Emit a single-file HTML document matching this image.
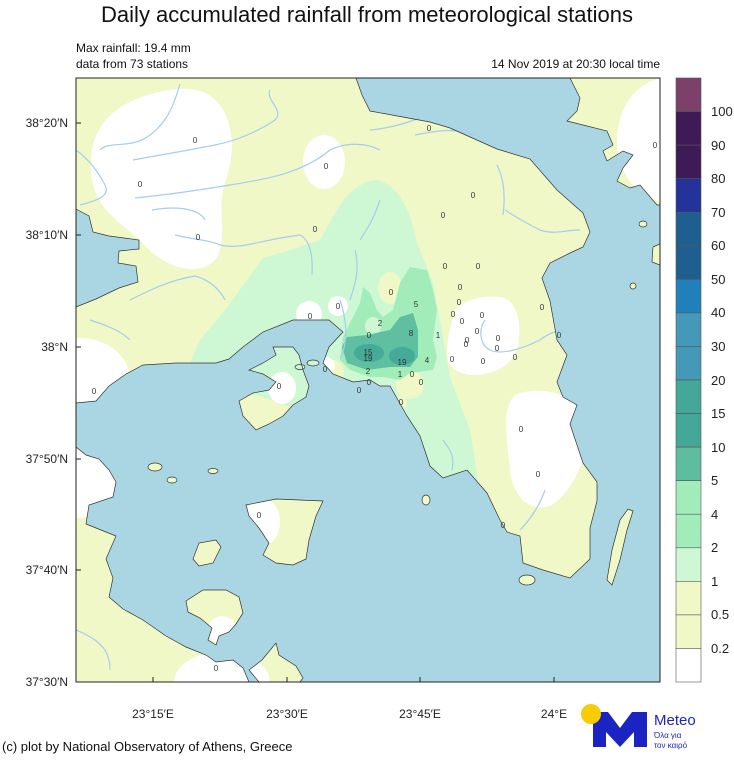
<!DOCTYPE html>
<html><head><meta charset="utf-8"><style>
body{margin:0;background:#fff;width:734px;height:755px;overflow:hidden;font-family:"Liberation Sans",sans-serif}
</style></head><body>
<svg width="734" height="755" viewBox="0 0 734 755" xmlns="http://www.w3.org/2000/svg" font-family="Liberation Sans, sans-serif">
<defs>
<clipPath id="frame"><rect x="76" y="78" width="584" height="604"/></clipPath>
<clipPath id="land">
<path id="A" d="M76,78 L356,78 L362,95 L370,111 L430,122 L450,128 L497,149 L530,159 L557,190 L583,213 L590,232 L583,247 L570,253 L550,263 L542,278 L550,301 L557,340 L567,355 L557,382 L563,397 L577,405 L570,424 L583,463 L597,482 L597,501 L590,528 L590,559 L570,578 L543,570 L523,563 L520,536 L507,532 L500,520 L487,493 L467,470 L443,478 L430,466 L420,436 L407,416 L390,386 L380,386 L370,380 L353,382 L333,374 L323,363 L329,347 L343,332 L329,320 L309,320 L293,320 L263,332 L243,347 L229,359 L216,363 L176,363 L143,365 L126,374 L109,386 L96,401 L76,403 Z"/>
<path d="M570,78 L580,98 L577,111 L567,121 L583,125 L607,131 L613,145 L603,151 L607,161 L623,151 L633,155 L623,168 L617,181 L630,188 L640,185 L657,205 L660,205 L660,78 Z"/>
<path d="M273,347 L293,347 L299,355 L303,370 L309,386 L306,397 L293,405 L283,416 L269,424 L256,430 L243,416 L239,401 L253,393 L269,390 L276,382 L263,374 L249,370 L263,363 L276,355 Z"/>
<path d="M76,447 L86,455 L99,459 L109,470 L116,482 L113,497 L89,505 L86,524 L96,528 L116,536 L106,559 L113,578 L109,597 L123,609 L143,620 L166,636 L186,647 L206,655 L216,662 L233,660 L243,668 L249,682 L76,682 Z"/>
<path d="M186,601 L203,590 L226,590 L239,597 L243,613 L236,624 L229,632 L219,636 L216,645 L208,640 L212,628 L200,618 L188,612 Z"/>
<path d="M276,643 L279,655 L296,666 L303,678 L300,682 L259,682 L249,670 L262,660 Z"/>
<path d="M246,505 L276,499 L323,501 L316,516 L309,540 L306,559 L293,565 L276,563 L263,555 L269,543 L259,528 L249,516 Z"/>
<path d="M193,559 L199,543 L216,540 L221,547 L213,563 L199,566 Z"/>
<path d="M633,511 L627,530 L620,560 L612,585 L607,580 L612,550 L620,520 L628,509 Z"/>
<path d="M653,247 L660,244 L660,265 L652,262 Z"/>
<ellipse cx="155" cy="467" rx="7" ry="4"/><ellipse cx="172" cy="480" rx="5" ry="3"/><ellipse cx="213" cy="471" rx="5" ry="2.5"/>
<ellipse cx="527" cy="580" rx="8" ry="5"/><ellipse cx="426" cy="500" rx="4" ry="5"/><ellipse cx="643" cy="224" rx="4" ry="3"/><ellipse cx="633" cy="286" rx="3" ry="3"/>
<ellipse cx="313" cy="363" rx="6" ry="3"/><ellipse cx="300" cy="367" rx="5" ry="2.5"/>
</clipPath>
</defs>
<!-- sea -->
<rect x="76" y="78" width="584" height="604" fill="#aad6e3"/>
<g clip-path="url(#land)">
<rect x="76" y="78" width="584" height="604" fill="#eff8c6"/>
<!-- light green 1-2 -->
<path d="M377,180 C400,185 412,215 417,243 L433,283 L443,337 L450,377 L470,430 L478,480 L440,480 L330,420 L186,372 L200,340 L226,309 L263,258 L290,250 L320,240 L340,205 C350,190 365,180 377,180 Z" fill="#cdf8d3"/>
<ellipse cx="390" cy="288" rx="12" ry="16" fill="#eff8c6"/>
<ellipse cx="410" cy="385" rx="14" ry="14" fill="#eff8c6"/>
<ellipse cx="400" cy="403" rx="7" ry="7" fill="#eff8c6"/>
<ellipse cx="332" cy="372" rx="12" ry="12" fill="#eff8c6"/>
<!-- mid green 2-5 -->
<path d="M410,267 L427,270 L433,290 L437,310 L433,340 L437,357 L433,370 L410,373 L400,380 L383,377 L370,377 L350,370 L340,360 L343,337 L360,303 L363,287 L370,293 L377,310 L383,317 L393,310 L400,283 Z" fill="#a2ecb9"/>
<ellipse cx="373" cy="326" rx="8" ry="9" fill="#cdf8d3"/>
<!-- green 5-10 -->
<path d="M400,317 L413,313 L418,330 L418,357 L410,367 L390,367 L367,370 L347,363 L342,347 L347,337 L367,335 L390,330 Z" fill="#5ec0a0"/>
<ellipse cx="369" cy="353" rx="15" ry="9" fill="#45aa98"/>
<ellipse cx="402" cy="356" rx="13" ry="9" fill="#45aa98"/>
<!-- white <0.2 -->
<g fill="#fff">
<path d="M180,89 C230,85 240,140 226,180 C215,205 230,240 215,260 C195,280 160,265 140,240 C110,215 85,200 92,150 C98,110 140,92 180,89 Z"/>
<ellipse cx="324" cy="162" rx="21" ry="27"/>
<ellipse cx="80" cy="380" rx="50" ry="42"/>
<circle cx="309" cy="314" r="13"/><circle cx="338" cy="306" r="10"/><circle cx="326" cy="366" r="9"/>
<ellipse cx="282" cy="388" rx="14" ry="16"/>
<ellipse cx="76" cy="482" rx="40" ry="36"/>
<ellipse cx="262" cy="522" rx="18" ry="24"/>
<ellipse cx="222" cy="630" rx="14" ry="14"/>
<ellipse cx="222" cy="682" rx="48" ry="30"/>
<path d="M455,310 C465,300 480,295 500,297 C518,300 522,325 518,345 C512,368 495,372 480,375 C465,376 452,372 448,360 C445,345 450,330 455,310 Z"/>
<path d="M515,395 C540,385 575,392 585,420 C592,450 575,490 552,505 C530,515 512,495 510,470 C508,445 500,410 515,395 Z"/>
<ellipse cx="667" cy="140" rx="50" ry="62"/>
</g>
</g>
<!-- Corinth gulf sea -->
<path d="M76,209 L89,216 L93,232 L109,236 L139,240 L139,249 L119,251 L118,263 L136,266 L138,282 L119,288 L96,299 L76,307 Z" fill="#aad6e3" stroke="#333" stroke-width="0.7"/>
<!-- rivers -->
<g fill="none" stroke="#a5cdee" stroke-width="1.2" clip-path="url(#frame)">
<path d="M180,84 C175,100 170,120 150,135 C130,150 110,140 100,150"/>
<path d="M76,150 C90,160 100,175 105,185 C110,195 100,200 80,205"/>
<path d="M133,160 C160,155 190,150 215,145 C240,140 260,130 275,120 C285,110 265,100 270,90"/>
<path d="M135,198 C165,195 200,190 230,185 C260,180 300,175 330,150 C340,145 360,140 380,150"/>
<path d="M152,210 C180,205 200,210 205,220"/>
<path d="M175,235 C195,240 210,240 220,245 C240,250 260,240 300,235 C310,240 313,255 312,275"/>
<path d="M130,300 C150,290 170,280 195,276 C210,280 220,290 225,300"/>
<path d="M90,320 C105,325 120,330 130,340"/>
<path d="M380,200 C375,215 370,225 360,240"/>
<path d="M355,250 C360,270 355,285 350,300"/>
<path d="M340,300 C350,330 345,350 340,358"/>
<path d="M370,130 C390,128 400,125 420,118"/>
<path d="M415,135 C440,130 455,128 475,135"/>
<path d="M497,165 C505,180 505,200 503,215"/>
<path d="M505,210 C520,220 530,225 540,230 C555,235 565,230 580,230"/>
<path d="M485,320 C478,330 480,345 490,350 C500,355 520,350 540,340 C550,332 560,330 565,330"/>
<path d="M443,440 C450,450 455,455 452,470"/>
<path d="M545,490 C540,505 530,520 520,530"/>
<path d="M76,630 C100,640 110,650 110,670"/>
</g>
<!-- coastlines -->
<g fill="none" stroke="#333" stroke-width="0.7" clip-path="url(#frame)">
<use href="#A"/>
<path d="M570,78 L580,98 L577,111 L567,121 L583,125 L607,131 L613,145 L603,151 L607,161 L623,151 L633,155 L623,168 L617,181 L630,188 L640,185 L657,205 L660,205"/>
<path d="M273,347 L293,347 L299,355 L303,370 L309,386 L306,397 L293,405 L283,416 L269,424 L256,430 L243,416 L239,401 L253,393 L269,390 L276,382 L263,374 L249,370 L263,363 L276,355 Z"/>
<path d="M76,447 L86,455 L99,459 L109,470 L116,482 L113,497 L89,505 L86,524 L96,528 L116,536 L106,559 L113,578 L109,597 L123,609 L143,620 L166,636 L186,647 L206,655 L216,662 L233,660 L243,668 L249,682"/>
<path d="M186,601 L203,590 L226,590 L239,597 L243,613 L236,624 L229,632 L219,636 L216,645 L208,640 L212,628 L200,618 L188,612 Z"/>
<path d="M276,643 L279,655 L296,666 L303,678 L300,682 M259,682 L249,670 L262,660 L276,643"/>
<path d="M246,505 L276,499 L323,501 L316,516 L309,540 L306,559 L293,565 L276,563 L263,555 L269,543 L259,528 L249,516 Z"/>
<path d="M193,559 L199,543 L216,540 L221,547 L213,563 L199,566 Z"/>
<path d="M633,511 L627,530 L620,560 L612,585 L607,580 L612,550 L620,520 L628,509 Z"/>
<path d="M653,247 L660,244 M660,265 L652,262 L653,247"/>
<ellipse cx="155" cy="467" rx="7" ry="4"/><ellipse cx="172" cy="480" rx="5" ry="3"/><ellipse cx="213" cy="471" rx="5" ry="2.5"/>
<ellipse cx="527" cy="580" rx="8" ry="5"/><ellipse cx="426" cy="500" rx="4" ry="5"/><ellipse cx="643" cy="224" rx="4" ry="3"/><ellipse cx="633" cy="286" rx="3" ry="3"/>
<ellipse cx="313" cy="363" rx="6" ry="3"/><ellipse cx="300" cy="367" rx="5" ry="2.5"/>
</g>
<!-- station labels -->
<g font-size="8" fill="#333" text-anchor="middle">
<text x="195" y="143">0</text><text x="140" y="187">0</text><text x="198" y="240">0</text><text x="326" y="169">0</text><text x="315" y="232">0</text>
<text x="429" y="131">0</text><text x="473" y="198">0</text><text x="443" y="218">0</text><text x="445" y="269">0</text><text x="478" y="269">0</text>
<text x="460" y="290">0</text><text x="459" y="305">0</text><text x="453" y="317">0</text><text x="462" y="324">0</text><text x="482" y="318">0</text>
<text x="477" y="334">0</text><text x="467" y="343">0</text><text x="466" y="347">0</text><text x="498" y="341">0</text><text x="497" y="351">0</text>
<text x="452" y="362">0</text><text x="483" y="364">0</text><text x="515" y="360">0</text><text x="542" y="310">0</text><text x="559" y="338">0</text>
<text x="521" y="432">0</text><text x="538" y="477">0</text><text x="655" y="148">0</text><text x="503" y="528">0</text><text x="412" y="377">0</text>
<text x="421" y="385">0</text><text x="401" y="405">0</text><text x="391" y="295">0</text><text x="94" y="394">0</text><text x="279" y="389">0</text>
<text x="259" y="518">0</text><text x="216" y="671">0</text><text x="310" y="319">0</text><text x="338" y="309">0</text><text x="325" y="372">0</text>
<text x="369" y="338">0</text><text x="369" y="385">0</text><text x="359" y="393">0</text>
<text x="416" y="307">5</text><text x="380" y="326">2</text><text x="411" y="336">8</text><text x="438" y="338">1</text>
<text x="368" y="355">15</text><text x="368" y="361">19</text><text x="402" y="365">19</text><text x="427" y="363">4</text>
<text x="368" y="374">2</text><text x="400" y="377">1</text>
</g>
<!-- frame -->
<rect x="76" y="78" width="584" height="604" fill="none" stroke="#222" stroke-width="1"/>
<g stroke="#222" stroke-width="1">
<line x1="76" y1="123" x2="81" y2="123"/><line x1="76" y1="235" x2="81" y2="235"/><line x1="76" y1="347" x2="81" y2="347"/><line x1="76" y1="459" x2="81" y2="459"/><line x1="76" y1="570" x2="81" y2="570"/>
<line x1="153" y1="682" x2="153" y2="677"/><line x1="287" y1="682" x2="287" y2="677"/><line x1="420" y1="682" x2="420" y2="677"/><line x1="554" y1="682" x2="554" y2="677"/>
</g>
<g font-size="12" fill="#222" text-anchor="end">
<text x="68" y="127">38°20′N</text><text x="68" y="239">38°10′N</text><text x="68" y="351">38°N</text><text x="68" y="463">37°50′N</text><text x="68" y="574">37°40′N</text><text x="68" y="686">37°30′N</text>
</g>
<g font-size="12" fill="#222" text-anchor="middle">
<text x="153" y="718">23°15′E</text><text x="287" y="718">23°30′E</text><text x="420" y="718">23°45′E</text><text x="554" y="718">24°E</text>
</g>
<!-- titles -->
<text x="367" y="22" font-size="22" text-anchor="middle" fill="#111">Daily accumulated rainfall from meteorological stations</text>
<text x="76" y="52" font-size="12" fill="#111">Max rainfall: 19.4 mm</text>
<text x="76" y="68" font-size="12" fill="#111">data from 73 stations</text>
<text x="660" y="68" font-size="12" fill="#111" text-anchor="end">14 Nov 2019 at 20:30 local time</text>
<!-- colorbar -->
<g stroke="#555" stroke-width="0.6">
<rect x="676" y="78.0" width="25" height="33.6" fill="#7c406b"/>
<rect x="676" y="111.6" width="25" height="33.6" fill="#3e1a56"/>
<rect x="676" y="145.1" width="25" height="33.6" fill="#3e1a56"/>
<rect x="676" y="178.7" width="25" height="33.6" fill="#24329b"/>
<rect x="676" y="212.2" width="25" height="33.6" fill="#1f5f90"/>
<rect x="676" y="245.8" width="25" height="33.6" fill="#1f5f90"/>
<rect x="676" y="279.3" width="25" height="33.6" fill="#2080bc"/>
<rect x="676" y="312.9" width="25" height="33.6" fill="#4499b9"/>
<rect x="676" y="346.4" width="25" height="33.6" fill="#4499b9"/>
<rect x="676" y="380.0" width="25" height="33.6" fill="#44a898"/>
<rect x="676" y="413.6" width="25" height="33.6" fill="#44a898"/>
<rect x="676" y="447.1" width="25" height="33.6" fill="#5ebd9f"/>
<rect x="676" y="480.7" width="25" height="33.6" fill="#a2ecb9"/>
<rect x="676" y="514.2" width="25" height="33.6" fill="#a2ecb9"/>
<rect x="676" y="547.8" width="25" height="33.6" fill="#cdf8d3"/>
<rect x="676" y="581.3" width="25" height="33.6" fill="#eff8c6"/>
<rect x="676" y="614.9" width="25" height="33.6" fill="#eff8c6"/>
<rect x="676" y="648.4" width="25" height="33.6" fill="#ffffff"/>
</g>
<g font-size="13" fill="#222">
<text x="711" y="116">100</text><text x="711" y="150">90</text><text x="711" y="183">80</text><text x="711" y="217">70</text><text x="711" y="250">60</text><text x="711" y="284">50</text><text x="711" y="317">40</text><text x="711" y="351">30</text><text x="711" y="385">20</text><text x="711" y="418">15</text><text x="711" y="452">10</text><text x="711" y="485">5</text><text x="711" y="519">4</text><text x="711" y="552">2</text><text x="711" y="586">1</text><text x="711" y="619">0.5</text><text x="711" y="653">0.2</text>
</g>
<!-- footer -->
<text x="2" y="751" font-size="13" fill="#111">(c) plot by National Observatory of Athens, Greece</text>
<path d="M593,712 L608,712 L620,728 L632,712 L647,712 L647,747 L634,747 L634,732 L620,747 L606,732 L606,747 L593,747 Z" fill="#1c23c3"/>
<circle cx="591" cy="714" r="10" fill="#f7cc00"/>
<text x="654" y="725" font-size="15" fill="#1c23c3">Meteo</text>
<text x="654" y="738" font-size="8" fill="#1c23c3">Όλα για</text>
<text x="654" y="748" font-size="8" fill="#1c23c3">τον καιρό</text>
</svg>
</body></html>
